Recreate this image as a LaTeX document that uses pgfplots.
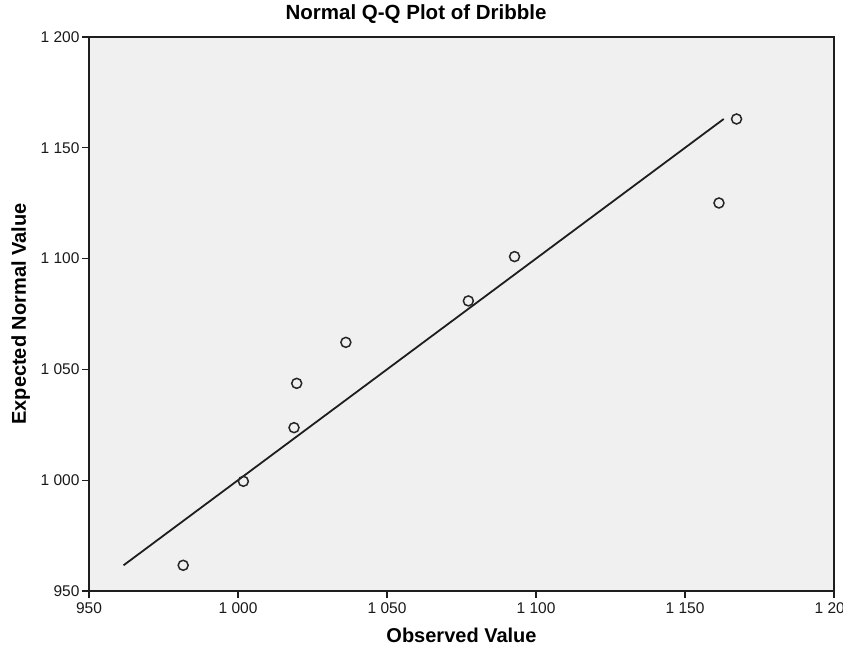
\documentclass[border=0pt]{standalone}
\usepackage{fontspec}
\setmainfont{Liberation Sans}
\usepackage{pgfplots}
\pgfplotsset{compat=1.18}
\definecolor{bg}{RGB}{240,240,240}
\definecolor{axc}{RGB}{30,30,30}
\begin{document}
\begin{tikzpicture}
\begin{axis}[
  name=ax,
  scale only axis,
  width=745pt, height=554pt,
  xmin=950, xmax=1200, ymin=950, ymax=1200,
  xtick={950,1000,1050,1100,1150,1200},
  ytick={950,1000,1050,1100,1150,1200},
  xticklabels={950,1 000,1 050,1 100,1 150,1 200},
  yticklabels={950,1 000,1 050,1 100,1 150,1 200},
  xtick pos=bottom, ytick pos=left,
  tick align=outside,
  major tick length=7pt,
  tick style={axc, line width=1.1pt},
  axis line style={axc, line width=1.8pt},
  axis background/.style={fill=bg},
  ticklabel style={font=\fontsize{15.5}{17}\selectfont, text=black!90},
  xticklabel style={yshift=-1pt},
  yticklabel style={xshift=1pt},
  /pgf/number format/assume math mode=true,
  title={Normal Q-Q Plot of Dribble},
  title style={at={(axis description cs:0.439,1)}, anchor=base, yshift=11pt, font=\bfseries\fontsize{20.5}{24}\selectfont},
  xlabel={Observed Value},
  ylabel={Expected Normal Value},
  xlabel style={font=\bfseries\fontsize{20}{24}\selectfont, at={(axis description cs:0.5,0)}, anchor=base, yshift=-52pt},
  ylabel style={font=\bfseries\fontsize{20}{24}\selectfont, at={(axis description cs:0,0.5)}, anchor=base, yshift=63pt},
  clip=false,
]
\addplot[axc, line width=1.8pt, no markers] coordinates {(961.6,961.6) (1163.0,1163.0)};
\addplot[only marks, mark=o, mark size=5pt, mark options={draw=black!85, line width=1.5pt, fill=bg}] coordinates {
(981.6,961.6) (1001.8,999.5) (1018.8,1023.7) (1019.7,1043.7) (1036.2,1062.2)
(1077.3,1080.9) (1092.8,1100.9) (1161.4,1125.1) (1167.3,1163.0)
};
\end{axis}
\pgfresetboundingbox
\path[use as bounding box] (ax.south west) ++(-89pt,-60pt) rectangle ([shift={(9pt,37pt)}]ax.north east);
\end{tikzpicture}
\end{document}
